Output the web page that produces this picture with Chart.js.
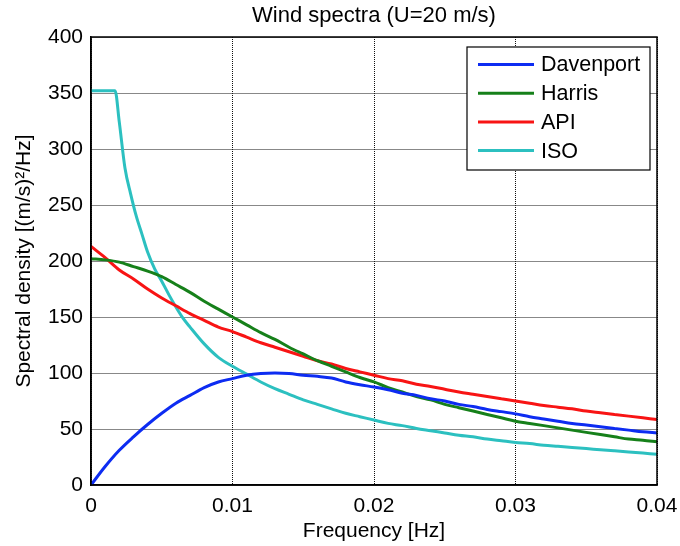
<!DOCTYPE html>
<html>
<head>
<meta charset="utf-8">
<script src="https://cdn.jsdelivr.net/npm/chart.js@4.4.1/dist/chart.umd.min.js"></script>
<style>
  html, body { margin: 0; padding: 0; background: #fff; }
  #wrap { width: 680px; height: 546px; }
</style>
</head>
<body>
<div id="wrap"><canvas id="chart" width="680" height="546"></canvas></div>
<script>
// Frequency grid [Hz] shared by Davenport, Harris and API
const freqs = [
    0, 0.001, 0.002, 0.003, 0.004, 0.005, 0.006, 0.007, 0.008, 0.009,
    0.010, 0.011, 0.012, 0.013, 0.014, 0.015, 0.016, 0.017, 0.018, 0.019,
    0.020, 0.021, 0.022, 0.023, 0.024, 0.025, 0.026, 0.027, 0.028, 0.029,
    0.030, 0.031, 0.032, 0.033, 0.034, 0.035, 0.036, 0.037, 0.038, 0.039, 0.040
];

// Spectral density [(m/s)^2/Hz]
const davenport = [
    0, 16.5, 31, 43, 54, 64, 73, 80, 87, 92,
    95, 98, 99.5, 100, 99.5, 98, 97, 95.5, 92, 89.5,
    87.5, 85, 82, 80, 77, 75, 72, 70, 67.5, 65.5,
    63.5, 61, 59, 57, 55, 53.5, 52, 50.5, 49, 47.5, 46.5
];
const harris = [
    202, 201, 199, 195, 191, 186, 179, 172, 164, 157,
    150, 143, 136, 130, 123, 117, 111, 106, 101, 96,
    92, 87, 83, 79, 76, 72, 69, 66, 63, 60,
    57, 55, 53, 51, 49, 47, 45, 43, 41, 40, 38.5
];
const api = [
    213, 203, 192, 184, 175, 167, 160, 153, 147, 141,
    137, 132, 127, 123, 119, 115, 111, 108, 104, 101,
    98, 95, 93, 90, 88, 85.5, 83, 81, 79, 77,
    75, 73, 71, 69.5, 68, 66, 64.5, 63, 61.5, 60, 58.5
];

// ISO is sampled more finely at low frequency (flat cap then steep drop)
const isoFreqs = [
    0, 0.0017, 0.0020, 0.0024, 0.0028, 0.0032, 0.0036, 0.0040, 0.0045, 0.0050,
    0.0055, 0.0060, 0.0065, 0.0070, 0.0080, 0.0090, 0.010, 0.011, 0.012, 0.013,
    0.014, 0.015, 0.016, 0.017, 0.018, 0.019, 0.020, 0.021, 0.022, 0.023,
    0.024, 0.025, 0.026, 0.027, 0.028, 0.029, 0.030, 0.031, 0.032, 0.033,
    0.034, 0.035, 0.036, 0.037, 0.038, 0.039, 0.040
];
const iso = [
    352, 352, 324, 283, 260, 240, 224, 208, 193, 182,
    170, 159, 149, 141, 126, 114, 106, 99, 92, 86,
    81, 76, 72, 68, 64, 61, 58, 55, 53, 50.5,
    48.5, 46.5, 44.5, 43, 41, 39.5, 38, 37, 35.5, 34.5,
    33.5, 32.5, 31.5, 30.5, 29.5, 28.5, 27.5
];

const xTicks = [0, 0.01, 0.02, 0.03, 0.04];

const FONT = "'Liberation Sans', Arial, sans-serif";

const toPoints = (xs, ys) => xs.map((x, i) => ({ x: x, y: ys[i] }));

const series = [
    { label: 'Davenport', color: '#0d2cf2', data: toPoints(freqs, davenport) },
    { label: 'Harris',    color: '#16801a', data: toPoints(freqs, harris) },
    { label: 'API',       color: '#f81414', data: toPoints(freqs, api) },
    { label: 'ISO',       color: '#2cc0c0', data: toPoints(isoFreqs, iso) }
];

// Box around the plot area + legend inside it (top right)
const boxAndLegend = {
    id: 'boxAndLegend',
    afterDatasetsDraw(chart) {
        const { ctx, chartArea: a } = chart;
        ctx.save();
        ctx.setLineDash([]);
        ctx.strokeStyle = '#000';
        ctx.lineWidth = 1.5;
        ctx.strokeRect(a.left, a.top, a.right - a.left, a.bottom - a.top);

        const bx = a.right - 190, by = a.top + 10, bw = 183, bh = 123;
        ctx.fillStyle = '#fff';
        ctx.fillRect(bx, by, bw, bh);
        ctx.lineWidth = 1.2;
        ctx.strokeRect(bx, by, bw, bh);

        ctx.font = '21.5px ' + FONT;
        ctx.textBaseline = 'middle';
        ctx.textAlign = 'left';
        chart.data.datasets.forEach((ds, i) => {
            const y = by + 17.5 + i * 28.7;
            ctx.strokeStyle = ds.borderColor;
            ctx.lineWidth = 3;
            ctx.beginPath();
            ctx.moveTo(bx + 11, y);
            ctx.lineTo(bx + 67, y);
            ctx.stroke();
            ctx.fillStyle = '#000';
            ctx.fillText(ds.label, bx + 74, y + 1);
        });
        ctx.restore();
    }
};

const gridStyle = { color: '#111', lineWidth: 1, drawTicks: false };
const dotted = { display: true, color: '#000', width: 1.5, dash: [1, 1] };

new Chart(document.getElementById('chart'), {
    type: 'line',
    data: {
        datasets: series.map(s => ({
            label: s.label,
            data: s.data,
            borderColor: s.color,
            backgroundColor: s.color,
            borderWidth: 3,
            pointRadius: 0,
            cubicInterpolationMode: 'monotone',
            fill: false
        }))
    },
    options: {
        responsive: false,
        animation: false,
        devicePixelRatio: 1,
        layout: { padding: { left: 0, right: 23, top: 0, bottom: 0 } },
        plugins: {
            legend: { display: false },
            tooltip: { enabled: false },
            title: {
                display: true,
                fullSize: false,
                text: 'Wind spectra (U=20 m/s)',
                color: '#000',
                font: { family: FONT, size: 22, weight: 'normal' },
                padding: { top: 3, bottom: 7.6 }
            }
        },
        scales: {
            x: {
                type: 'linear',
                min: 0,
                max: 0.04,
                afterFit: scale => {
                    scale.height = 61;
                    scale.paddingLeft = 0;
                    scale.paddingRight = 0;
                },
                afterBuildTicks: scale => { scale.ticks = xTicks.map(v => ({ value: v })); },
                grid: gridStyle,
                border: dotted,
                ticks: {
                    color: '#000',
                    padding: 9,
                    maxRotation: 0,
                    font: { family: FONT, size: 21 },
                    callback: v => String(+v.toFixed(2))
                },
                title: {
                    display: true,
                    text: 'Frequency [Hz]',
                    color: '#000',
                    font: { family: FONT, size: 21 },
                    padding: { top: 0, bottom: 2 }
                }
            },
            y: {
                min: 0,
                max: 400,
                afterFit: scale => {
                    scale.width = 91;
                    scale.paddingTop = 0;
                    scale.paddingBottom = 0;
                },
                grid: gridStyle,
                border: dotted,
                ticks: {
                    color: '#000',
                    stepSize: 50,
                    padding: 8,
                    font: { family: FONT, size: 21 }
                },
                title: {
                    display: true,
                    text: 'Spectral density [(m/s)²/Hz]',
                    color: '#000',
                    font: { family: FONT, size: 21 },
                    padding: { top: 12, bottom: 0 }
                }
            }
        }
    },
    plugins: [boxAndLegend]
});
</script>
</body>
</html>
